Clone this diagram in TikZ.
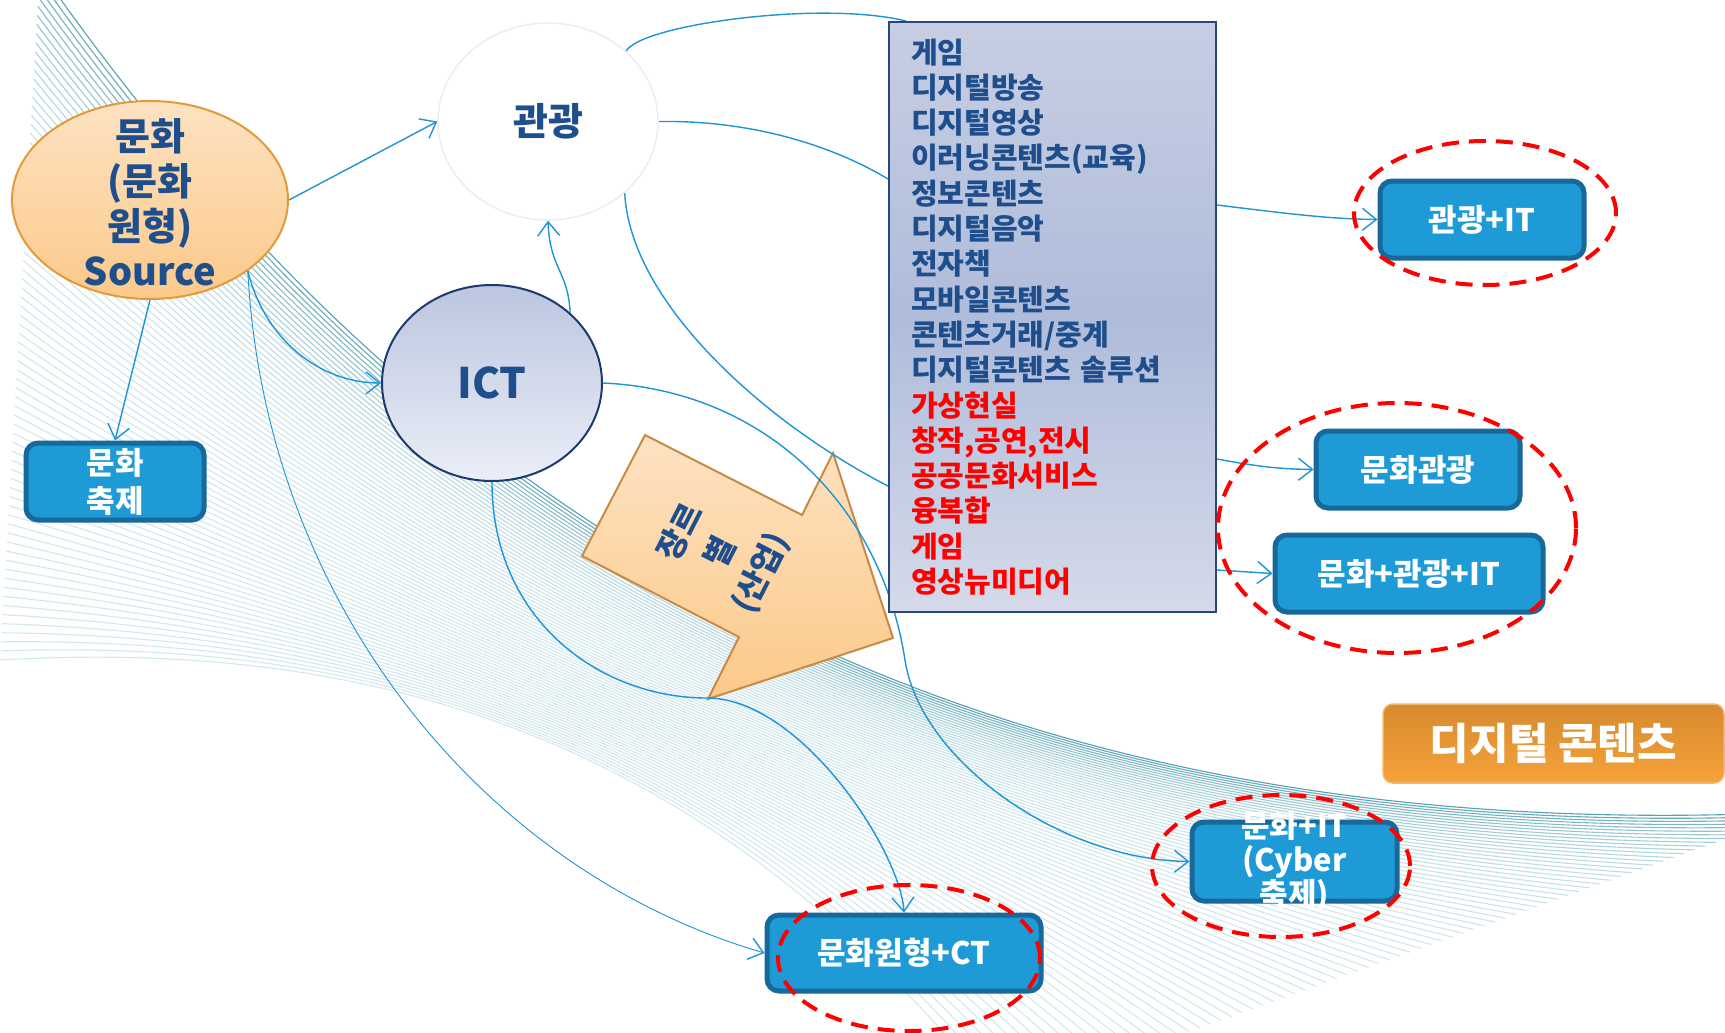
\documentclass[tikz,border=0pt]{standalone}
\usepackage{fontspec}
\setmainfont{Noto Sans CJK KR}
\usetikzlibrary{shapes.geometric,arrows.meta}
\definecolor{navy}{HTML}{1F4E8C}
\definecolor{cblue}{HTML}{1E93D8}
\definecolor{boxblue}{HTML}{1E9BD7}
\definecolor{boxedge}{HTML}{17689B}
\definecolor{stripec}{HTML}{8CC3CE}
\definecolor{darkteal}{HTML}{3F93A6}
\definecolor{orT}{HTML}{FDE2C2}
\definecolor{orB}{HTML}{FCC98A}
\definecolor{orE}{HTML}{E39A3A}
\definecolor{arE}{HTML}{C98A45}
\definecolor{ictT}{HTML}{BCC6E0}
\definecolor{ictB}{HTML}{EAEEF7}
\definecolor{ictE}{HTML}{1B3A6E}
\definecolor{lsT}{HTML}{C7CEE3}
\definecolor{lsM}{HTML}{AFBCDA}
\definecolor{lsB}{HTML}{D5DAEA}
\definecolor{lsE}{HTML}{27477F}
\definecolor{digT}{HTML}{D68A2E}
\definecolor{digB}{HTML}{F6A23A}
\definecolor{digE}{HTML}{F2B772}
\pgfdeclarelayer{bg}
\pgfdeclarelayer{mid}
\pgfsetlayers{bg,mid,main}
\tikzset{
  conn/.style={draw=cblue,line width=1.4pt,-{Straight Barb[length=14pt,width=22pt,line width=1.4pt]}},
  plain/.style={draw=cblue,line width=1.4pt},
  bluebox/.style={rectangle,rounded corners=12pt,fill=boxblue,draw=boxedge,line width=5pt,text=white,inner sep=0pt,align=center,font=\fontsize{31}{38}\selectfont\bfseries},
  redring/.style={ellipse,draw=red,line width=4pt,dash pattern=on 17pt off 10pt,inner sep=0pt},
  stripe/.style={line width=1.1pt},
  navytext/.style={text=navy,align=center,inner sep=0pt},
}
\begin{document}
\begin{tikzpicture}[x=1pt,y=-1pt]
\useasboundingbox (0,0) rectangle (1725,1033);
\begin{pgfonlayer}{bg}
  \fill[white] (0,0) rectangle (1725,1033);
  \begin{scope}
    \clip (0,0) rectangle (1725,1033);
    \foreach \i in {0,...,76}{
      \pgfmathsetmacro\s{\i/76}
      \pgfmathsetmacro\PAx{40-40*\s}   \pgfmathsetmacro\PAy{-30+690*\s}
      \pgfmathsetmacro\PBx{450-100*\s} \pgfmathsetmacro\PBy{560+80*\s}
      \pgfmathsetmacro\PCx{1000-300*\s}\pgfmathsetmacro\PCy{850-130*\s}
      \pgfmathsetmacro\PDx{1800-800*\s}\pgfmathsetmacro\PDy{812+288*\s}
      \pgfmathsetmacro\op{0.38+0.5*exp(-7*\s)}
      \pgfmathtruncatemacro\mixv{100*exp(-9*\s)}
      \draw[stripe,draw=darkteal!\mixv!stripec,opacity=\op] (\PAx,\PAy) .. controls (\PBx,\PBy) and (\PCx,\PCy) .. (\PDx,\PDy);
    }
  \end{scope}
\end{pgfonlayer}

% main nodes
\node[ellipse,top color=orT,bottom color=orB,draw=orE,line width=2pt,minimum width=276pt,minimum height=198pt,inner sep=0pt] (munhwa) at (150,200) {};
\node[navytext,font=\fontsize{38}{45}\selectfont\bfseries] (munhwaT) at (150,202) {문화\\(문화\\원형)\\Source};

\node[ellipse,fill=white,draw=black!7,line width=1.5pt,minimum width=220pt,minimum height=197pt,inner sep=0pt] (gwangwang) at (548,121.5) {};
\node[navytext,font=\fontsize{38}{45}\selectfont\bfseries] (gwangwangT) at (gwangwang) {관광};

\node[ellipse,top color=ictT,bottom color=ictB,draw=ictE,line width=2pt,minimum width=220pt,minimum height=196pt,inner sep=0pt] (ict) at (492,383) {};
\node[navytext,font=\fontsize{42}{45}\selectfont\bfseries] (ictT) at (ict) {ICT};

\node[rectangle,top color=lsT,bottom color=lsB,middle color=lsM,draw=lsE,line width=2pt,minimum width=327pt,minimum height=590pt,text width=283pt,inner xsep=22pt,inner ysep=0pt,align=left,text=navy,font=\fontsize{29}{35.3}\selectfont\bfseries] (list) at (1052.5,317) {게임\\디지털방송\\디지털영상\\이러닝콘텐츠(교육)\\정보콘텐츠\\디지털음악\\전자책\\모바일콘텐츠\\콘텐츠거래/중계\\디지털콘텐츠 솔루션\\\textcolor{red}{가상현실}\\\textcolor{red}{창작,공연,전시}\\\textcolor{red}{공공문화서비스}\\\textcolor{red}{융복합}\\\textcolor{red}{게임}\\\textcolor{red}{영상뉴미디어}};

\node[bluebox,minimum width=178pt,minimum height=77pt] (festival) at (115,481.5) {문화\\축제};
\node[bluebox,minimum width=204pt,minimum height=77pt] (gIT) at (1482,219.5) {관광+IT};
\node[bluebox,minimum width=204pt,minimum height=77pt] (mg) at (1418,469.5) {문화관광};
\node[bluebox,minimum width=268pt,minimum height=77pt] (mgIT) at (1409,573.5) {문화+관광+IT};
\node[bluebox,minimum width=205pt,minimum height=79pt] (cyber) at (1294.5,861.5) {};
\node[text=white,align=center,inner sep=0pt,font=\fontsize{31}{34}\selectfont\bfseries] (cyberT) at (cyber) {문화+IT\\(Cyber\\축제)};
\node[bluebox,minimum width=274pt,minimum height=76pt] (ct) at (904,953) {문화원형+CT};

\node[rectangle,rounded corners=10pt,top color=digT,bottom color=digB,draw=digE,line width=1.5pt,text=white,font=\fontsize{43}{45}\selectfont\bfseries,minimum width=341pt,minimum height=79pt,inner sep=0pt] (digital) at (1553.5,743.5) {디지털 콘텐츠};

% red dashed rings
\node[redring,minimum width=262pt,minimum height=144pt] (e1) at (1485,213) {};
\node[redring,minimum width=358pt,minimum height=250pt] (e2) at (1397,528) {};
\node[redring,minimum width=258pt,minimum height=142pt] (e3) at (1281,866) {};
\node[redring,minimum width=262pt,minimum height=146pt] (e4) at (909,958) {};

\node[navytext,rotate=63,font=\fontsize{32}{45}\selectfont\bfseries] (genre) at (721,553) {장르\\별\\(산업)};

\begin{pgfonlayer}{mid}
  \draw[top color=orT,bottom color=orB,draw=arE,line width=2pt,line join=miter] (645,435) -- (802,515) -- (833,453) -- (893,638) -- (708,699) -- (739,637) -- (582,556) -- cycle;
  \draw[conn] (munhwa.east) -- (gwangwang.west);
  \draw[conn] (munhwa.south) -- (festival.north);
  \draw[conn] (munhwa.-36) .. controls (265,340) and (320,383) .. (ict.west);
  \draw[conn,line width=0.9pt] (munhwa.-36) .. controls (265,600) and (480,870) .. (ct.west);
  \draw[conn] (ict.42) .. controls (568,270) and (550,270) .. (gwangwang.south);
  \draw[plain] (gwangwang.42) .. controls (640,25) and (820,0) .. ([xshift=18pt]list.north west);
  \draw[plain] (gwangwang.east) .. controls (760,120) and (840,150) .. ([yshift=-158pt]list.north west);
  \draw[plain] (gwangwang.-43) .. controls (630,300) and (760,420) .. ([yshift=-465pt]list.north west);
  \draw[conn] (ict.east) .. controls (760,390) and (880,500) .. (905,660) .. controls (920,760) and (1060,860) .. (cyber.west);
  \draw[conn] (ict.south) .. controls (492,620) and (600,698) .. (707,698) .. controls (800,698) and (900,850) .. (ct.north);
  \draw[conn] ([yshift=-184pt]list.north east) .. controls (1290,214) and (1330,219) .. (gIT.west);
  \draw[conn] ([yshift=-438pt]list.north east) .. controls (1260,467) and (1280,469) .. (mg.west);
  \draw[conn] ([yshift=-549pt]list.north east) -- (mgIT.west);
\end{pgfonlayer}
\end{tikzpicture}
\end{document}
